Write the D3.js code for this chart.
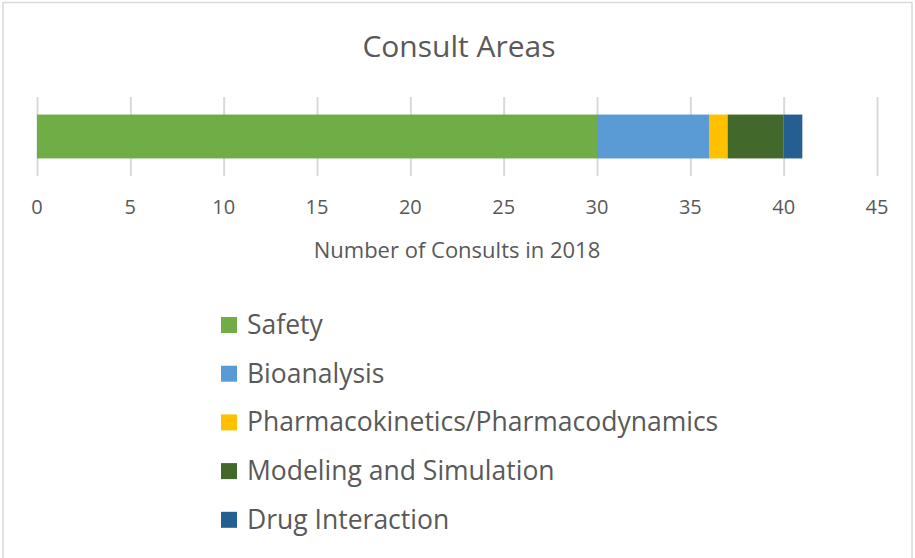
<!DOCTYPE html>
<head>
    <meta charset="utf-8" />
    <title>Consult Areas</title>
</head>
<style>
    body {
        margin: 0;
        background-color: #FFFFFF;
    }

    text {
        font-family: "Open Sans", sans-serif;
        fill: #595959;
    }

    .grid line {
        stroke: #D9D9D9;
        stroke-width: 2px;
    }

    .grid path {
        display: none;
    }
</style>
<body>
    <svg id="chart" width="915" height="558"></svg>
    <script src="https://d3js.org/d3.v7.min.js"></script>
    <script>
        // data
        var categories = ["Safety", "Bioanalysis", "Pharmacokinetics/Pharmacodynamics", "Modeling and Simulation", "Drug Interaction"];
        var values = [30, 6, 1, 3, 1];
        var colors = ["#70AD47", "#5B9BD5", "#FFC000", "#43682B", "#255E91"];
        var tickValues = [0, 5, 10, 15, 20, 25, 30, 35, 40, 45];

        var svg = d3.select("#chart");

        // frame
        svg.append("rect")
            .attr("x", 3)
            .attr("y", 2.5)
            .attr("width", 909)
            .attr("height", 570)
            .attr("fill", "none")
            .attr("stroke", "#D9D9D9")
            .attr("stroke-width", 1.5);

        var x = d3.scaleLinear().domain([0, 45]).range([37, 877]);
        var y = d3.scaleBand().domain(["2018"]).range([97, 176]).paddingInner(0).paddingOuter(0.4);

        // grid lines
        svg.append("g")
            .attr("class", "grid")
            .attr("transform", "translate(0,176)")
            .call(d3.axisBottom(x).tickValues(tickValues).tickSize(-79).tickFormat(""));

        // stacked segments
        var stacked = [];
        var acc = 0;
        values.forEach(function(v, i) {
            stacked.push({ name: categories[i], x0: acc, x1: acc + v, color: colors[i] });
            acc += v;
        });

        svg.selectAll(".bar")
            .data(stacked)
            .enter().append("rect")
            .attr("class", "bar")
            .attr("x", function(d) { return x(d.x0); })
            .attr("width", function(d) { return x(d.x1) - x(d.x0); })
            .attr("y", y("2018"))
            .attr("height", y.bandwidth())
            .attr("fill", function(d) { return d.color; });

        // tick labels
        svg.selectAll(".tick-label")
            .data(tickValues)
            .enter().append("text")
            .attr("class", "tick-label")
            .attr("x", function(d) { return x(d); })
            .attr("y", 214)
            .attr("text-anchor", "middle")
            .attr("font-size", "20px")
            .text(function(d) { return d; });

        // title
        svg.append("text")
            .attr("x", 459)
            .attr("y", 57)
            .attr("text-anchor", "middle")
            .attr("font-size", "30px")
            .text("Consult Areas");

        // axis title
        svg.append("text")
            .attr("x", 457)
            .attr("y", 258)
            .attr("text-anchor", "middle")
            .attr("font-size", "22px")
            .text("Number of Consults in 2018");

        // legend
        var legend = svg.selectAll(".legend")
            .data(stacked)
            .enter().append("g")
            .attr("class", "legend")
            .attr("transform", function(d, i) { return "translate(221," + (325 + i * 48.7) + ")"; });

        legend.append("rect")
            .attr("x", 0)
            .attr("y", -8)
            .attr("width", 16)
            .attr("height", 16)
            .attr("fill", function(d) { return d.color; });

        legend.append("text")
            .attr("x", 26)
            .attr("y", 9)
            .attr("font-size", "26.5px")
            .text(function(d) { return d.name; });
    </script>
</body>
